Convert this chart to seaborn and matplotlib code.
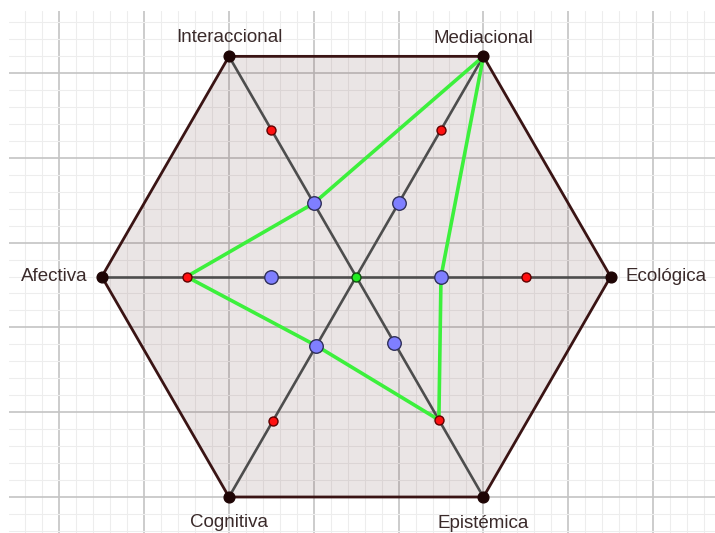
import numpy as np
import pandas as pd
import seaborn as sns
import matplotlib.pyplot as plt
from matplotlib.ticker import MultipleLocator

# Dimension labels, counter-clockwise from the right
dimensions = ["Ecológica", "Mediacional", "Interaccional", "Afectiva", "Cognitiva", "Epistémica"]
angles_deg = [0, 60, 120, 180, 240, 300]
max_level = 3

# Points placed on each spoke (distance from the centre)
red_levels = [2, 2, 2, 2, 1.97, 1.95]
blue_levels = [1, 1, 1, 1, 0.94, 0.9]
# Profile drawn in green
profile_levels = [1, 3, 1, 2, 0.94, 1.95]

center = (1.5, 3 * np.sqrt(3) / 2)
theta = np.deg2rad(angles_deg)


def to_xy(levels):
    r = np.asarray(levels, dtype=float)
    return center[0] + r * np.cos(theta), center[1] + r * np.sin(theta)


sns.set_style("white")
plt.rcParams["font.family"] = ["Liberation Sans", "DejaVu Sans"]

fig = plt.figure(figsize=(7.15, 5.33), dpi=100)
ax = fig.add_axes([9 / 715, 0, 706 / 715, 522 / 533])
ax.set_xlim(-2.594, 5.731)
ax.set_ylim(-0.4245, 5.731)
ax.set_aspect("auto")

# GeoGebra-like grid
ax.xaxis.set_major_locator(MultipleLocator(1))
ax.yaxis.set_major_locator(MultipleLocator(1))
ax.xaxis.set_minor_locator(MultipleLocator(0.2))
ax.yaxis.set_minor_locator(MultipleLocator(0.2))
ax.grid(which="major", color="#c4c4c4", linewidth=1.2, zorder=0)
ax.grid(which="minor", color="#ededed", linewidth=0.8, zorder=0)
ax.set_axisbelow(True)
ax.tick_params(which="both", length=0, labelbottom=False, labelleft=False)
for s in ax.spines.values():
    s.set_visible(False)

# Hexagon
vx, vy = to_xy([max_level] * 6)
ax.fill(vx, vy, color="#5a2e2e", alpha=0.12, lw=0, zorder=1)
ax.plot(np.append(vx, vx[0]), np.append(vy, vy[0]), color="#3a1414", lw=2, zorder=2)

# Spokes (diagonals through the centre)
for i in range(3):
    ax.plot([vx[i], vx[i + 3]], [vy[i], vy[i + 3]], color="#4d4d4d", lw=1.9, zorder=2)

# Green profile
px, py = to_xy(profile_levels)
ax.plot(np.append(px, px[0]), np.append(py, py[0]), color="#3cf03c", lw=2.6, zorder=3)

# Points
rx, ry = to_xy(red_levels)
bx, by = to_xy(blue_levels)
pts = pd.concat([
    pd.DataFrame({"x": vx, "y": vy, "kind": "vertex"}),
    pd.DataFrame({"x": rx, "y": ry, "kind": "red"}),
    pd.DataFrame({"x": bx, "y": by, "kind": "blue"}),
    pd.DataFrame({"x": [center[0]], "y": [center[1]], "kind": "center"}),
])
styles = {
    "vertex": dict(color="#1e0505", s=60, edgecolor="#1e0505"),
    "red": dict(color="#ff1010", s=42, edgecolor="#600000"),
    "blue": dict(color="#7f7fff", s=95, edgecolor="#30305a"),
    "center": dict(color="#22ee22", s=42, edgecolor="#105010"),
}
for kind, st in styles.items():
    sub = pts[pts["kind"] == kind]
    sns.scatterplot(data=sub, x="x", y="y", ax=ax, color=st["color"], s=st["s"],
                    edgecolor=st["edgecolor"], linewidth=1, zorder=5, legend=False)

ax.set_xlabel("")
ax.set_ylabel("")

# Labels at the vertices
offsets = {
    "Ecológica": (15, 0, "left", "center"),
    "Mediacional": (0, 18, "center", "center"),
    "Interaccional": (0, 19, "center", "center"),
    "Afectiva": (-14, 0, "right", "center"),
    "Cognitiva": (0, -25, "center", "center"),
    "Epistémica": (0, -26, "center", "center"),
}
for name, x, y in zip(dimensions, vx, vy):
    dx, dy, ha, va = offsets[name]
    ax.annotate(name, (x, y), xytext=(dx, dy), textcoords="offset pixels",
                ha=ha, va=va, fontsize=13.5, color="#3a2a2a")

fig.savefig("out.png", dpi=100)
